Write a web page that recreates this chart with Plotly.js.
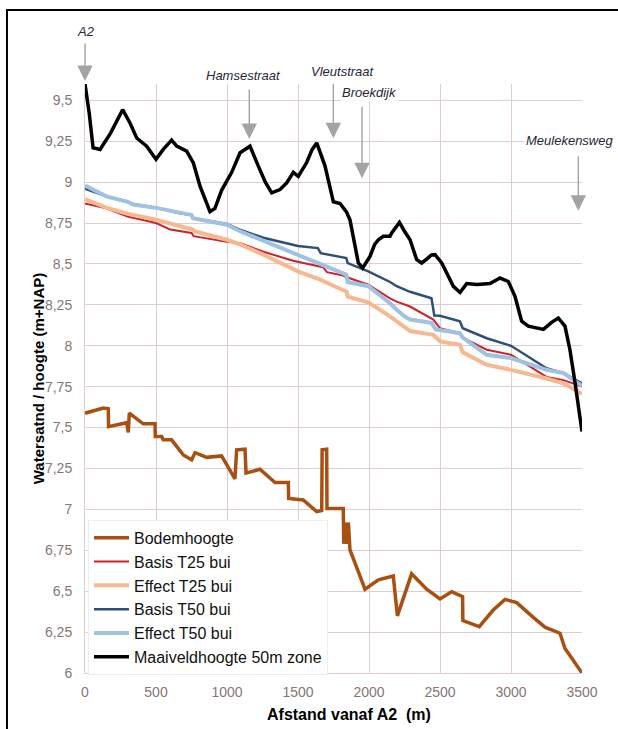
<!DOCTYPE html>
<html>
<head>
<meta charset="utf-8">
<script src="https://cdn.plot.ly/plotly-3.0.1.min.js"></script>
<style>
  html, body { margin: 0; padding: 0; background: #fff; }
  #chart { width: 618px; height: 729px; }
</style>
</head>
<body>
<div id="chart"></div>
<script>
// ---- Data ----
const bodemX = [0, 129, 164, 166, 293, 305, 312, 410, 493, 495, 540, 551, 610, 692, 751, 775, 857, 962, 1056, 1068, 1127, 1134, 1232, 1338, 1432, 1434, 1537, 1632, 1667, 1670, 1702, 1704, 1819, 1822, 1835, 1840, 1855, 1860, 1866, 1972, 2066, 2171, 2200, 2300, 2406, 2500, 2582, 2659, 2661, 2777, 2875, 2958, 3040, 3157, 3239, 3345, 3380, 3404, 3500];
const bodemY = [7.588, 7.619, 7.615, 7.506, 7.53, 7.47, 7.588, 7.523, 7.523, 7.445, 7.445, 7.425, 7.425, 7.333, 7.303, 7.347, 7.318, 7.327, 7.187, 7.364, 7.368, 7.222, 7.245, 7.164, 7.164, 7.067, 7.058, 6.986, 6.993, 7.364, 7.368, 7.006, 7.006, 6.79, 6.92, 6.79, 6.92, 6.78, 6.752, 6.512, 6.569, 6.593, 6.349, 6.606, 6.512, 6.453, 6.497, 6.467, 6.32, 6.283, 6.385, 6.45, 6.43, 6.34, 6.28, 6.243, 6.15, 6.12, 6.0];

const basisT25X = [0, 150, 300, 500, 600, 750, 765, 1000, 1100, 1256, 1465, 1676, 1704, 1817, 1840, 1995, 2148, 2195, 2289, 2453, 2500, 2640, 2660, 2829, 3000, 3250, 3370, 3500];
const basisT25Y = [8.87, 8.84, 8.79, 8.75, 8.71, 8.69, 8.67, 8.635, 8.625, 8.575, 8.52, 8.48, 8.45, 8.43, 8.42, 8.373, 8.29, 8.27, 8.24, 8.16, 8.107, 8.077, 8.05, 7.976, 7.945, 7.81, 7.79, 7.75];

const effectT25X = [0, 150, 300, 500, 760, 770, 1000, 1092, 1256, 1500, 1655, 1843, 1850, 1995, 2148, 2195, 2289, 2453, 2500, 2640, 2660, 2829, 3000, 3250, 3370, 3500];
const effectT25Y = [8.896, 8.844, 8.807, 8.77, 8.71, 8.70, 8.648, 8.62, 8.557, 8.455, 8.404, 8.33, 8.30, 8.266, 8.18, 8.15, 8.09, 8.067, 8.027, 8.006, 7.96, 7.884, 7.853, 7.80, 7.77, 7.707];

const basisT50X = [0, 150, 300, 340, 500, 670, 750, 760, 1000, 1090, 1256, 1500, 1640, 1660, 1840, 1850, 1995, 2148, 2195, 2289, 2440, 2460, 2500, 2640, 2660, 2829, 3000, 3250, 3370, 3500];
const basisT50Y = [8.96, 8.913, 8.88, 8.865, 8.843, 8.81, 8.80, 8.78, 8.745, 8.71, 8.66, 8.61, 8.597, 8.566, 8.536, 8.505, 8.455, 8.39, 8.364, 8.33, 8.29, 8.185, 8.183, 8.15, 8.107, 8.046, 8.0, 7.863, 7.833, 7.77];

const effectT50X = [0, 150, 300, 340, 500, 670, 750, 760, 1000, 1092, 1256, 1500, 1655, 1840, 1850, 1995, 2148, 2195, 2250, 2289, 2440, 2470, 2640, 2660, 2829, 3000, 3250, 3370, 3500];
const effectT50Y = [8.98, 8.913, 8.88, 8.863, 8.843, 8.81, 8.80, 8.78, 8.74, 8.70, 8.64, 8.557, 8.5, 8.434, 8.39, 8.364, 8.26, 8.22, 8.18, 8.16, 8.14, 8.10, 8.077, 8.05, 7.945, 7.925, 7.853, 7.833, 7.755];

const maaiveldX = [0, 30, 57, 106, 180, 265, 317, 364, 434, 500, 551, 610, 646, 680, 716, 763, 810, 880, 915, 962, 1033, 1092, 1162, 1220, 1270, 1315, 1373, 1420, 1467, 1502, 1561, 1600, 1632, 1690, 1749, 1796, 1840, 1866, 1890, 1925, 1955, 2007, 2040, 2066, 2101, 2148, 2160, 2214, 2250, 2289, 2336, 2371, 2406, 2440, 2465, 2512, 2550, 2594, 2641, 2688, 2760, 2852, 2923, 2981, 3028, 3075, 3122, 3169, 3228, 3286, 3333, 3380, 3415, 3450, 3500];
const maaiveldY = [9.6, 9.42, 9.21, 9.2, 9.3, 9.443, 9.362, 9.27, 9.22, 9.14, 9.2, 9.257, 9.22, 9.205, 9.19, 9.117, 8.975, 8.82, 8.84, 8.95, 9.06, 9.18, 9.22, 9.10, 9.0, 8.935, 8.955, 8.995, 9.06, 9.035, 9.12, 9.2, 9.24, 9.1, 8.88, 8.87, 8.82, 8.77, 8.65, 8.506, 8.475, 8.546, 8.62, 8.648, 8.669, 8.669, 8.69, 8.754, 8.7, 8.648, 8.526, 8.506, 8.53, 8.555, 8.557, 8.506, 8.44, 8.363, 8.326, 8.38, 8.375, 8.38, 8.414, 8.393, 8.302, 8.15, 8.12, 8.11, 8.10, 8.143, 8.17, 8.12, 7.976, 7.78, 7.476];

const seriesNames = ['Bodemhoogte', 'Basis T25 bui', 'Effect T25 bui', 'Basis T50 bui', 'Effect T50 bui', 'Maaiveldhoogte 50m zone'];

const xTickVals = [0, 500, 1000, 1500, 2000, 2500, 3000, 3500];
const xTickText = ['0', '500', '1000', '1500', '2000', '2500', '3000', '3500'];
const yTickVals = [6, 6.25, 6.5, 6.75, 7, 7.25, 7.5, 7.75, 8, 8.25, 8.5, 8.75, 9, 9.25, 9.5];
const yTickText = ['6', '6,25', '6,5', '6,75', '7', '7,25', '7,5', '7,75', '8', '8,25', '8,5', '8,75', '9', '9,25', '9,5'];

const placeNames = ['A2', 'Hamsestraat', 'Vleutstraat', 'Broekdijk', 'Meulekensweg'];
const placeArrowX = [0, 1157, 1749, 1951, 3474];
const placeTextX = [7, 1115, 1817, 2007, 3415];

const xTitle = 'Afstand vanaf A2 \u00a0(m)';
const yTitle = 'Watersatnd / hoogte (m+NAP)';

// ---- Styling ----
const FONT = 'Liberation Sans, Arial, sans-serif';
const GRID = '#dfcdd1';
const TICKC = '#857676';

const styles = [
  {color: '#a84f12', width: 3.5},
  {color: '#d0202a', width: 2},
  {color: '#f7b890', width: 4},
  {color: '#2e5078', width: 2.5},
  {color: '#9ec1e4', width: 4},
  {color: '#000000', width: 3.5}
];
const xs = [bodemX, basisT25X, effectT25X, basisT50X, effectT50X, maaiveldX];
const ys = [bodemY, basisT25Y, effectT25Y, basisT50Y, effectT50Y, maaiveldY];

const traces = seriesNames.map((n, i) => ({
  type: 'scatter', mode: 'lines', name: n,
  x: xs[i], y: ys[i],
  line: {color: styles[i].color, width: styles[i].width},
  hoverinfo: 'skip'
}));

const arrowTipY = [1.0051, 0.9066, 0.908, 0.840, 0.785];
const arrowLen = [-39, -51, -56, -73, -56];
const textY = [1.0883, 1.0141, 1.0209, 0.9852, 0.9037];

const annotations = [];
placeNames.forEach((p, i) => {
  annotations.push({
    x: placeArrowX[i], xref: 'x', y: arrowTipY[i], yref: 'paper',
    text: '', showarrow: true, ax: 0, ay: arrowLen[i],
    arrowcolor: '#a3a3a3', arrowwidth: 1.4, arrowhead: 2, arrowsize: 2.2
  });
  annotations.push({
    x: placeTextX[i], xref: 'x', y: textY[i], yref: 'paper',
    text: '<i>' + p + '</i>', showarrow: false, xanchor: 'center', yanchor: 'middle',
    font: {family: FONT, size: 13, color: '#262636'},
    bgcolor: 'rgba(255,255,255,0.9)', borderpad: 1
  });
});
annotations.push({
  x: 0.531, xref: 'paper', y: -0.0713, yref: 'paper',
  text: xTitle, showarrow: false, xanchor: 'center', yanchor: 'middle',
  font: {family: FONT, size: 16, color: '#000', weight: 'bold'}
});
annotations.push({
  x: -0.093, xref: 'paper', y: 0.5, yref: 'paper',
  text: yTitle, textangle: -90, showarrow: false, xanchor: 'center', yanchor: 'middle',
  font: {family: FONT, size: 15, color: '#000', weight: 'bold'}
});

const layout = {
  width: 618, height: 729,
  margin: {l: 85, r: 36, t: 84, b: 56},
  paper_bgcolor: '#fff', plot_bgcolor: '#fff',
  font: {family: FONT, size: 14, color: '#000'},
  showlegend: true,
  legend: {
    x: 0.006, xanchor: 'left', y: 0.26, yanchor: 'top',
    bgcolor: '#fff', bordercolor: '#ececec', borderwidth: 1,
    font: {family: FONT, size: 16, color: '#111'},
    itemwidth: 35, tracegroupgap: 0
  },
  xaxis: {
    range: [0, 3500], tickvals: xTickVals, ticktext: xTickText,
    showgrid: true, gridcolor: GRID, gridwidth: 1, zeroline: false,
    showline: true, linecolor: GRID, linewidth: 1,
    ticks: 'outside', ticklen: 6, tickcolor: 'rgba(0,0,0,0)',
    tickfont: {family: FONT, size: 14, color: TICKC}
  },
  yaxis: {
    range: [6, 9.6], tickvals: yTickVals, ticktext: yTickText,
    showgrid: true, gridcolor: GRID, gridwidth: 1, zeroline: false,
    showline: true, linecolor: GRID, linewidth: 1,
    ticks: 'outside', ticklen: 9, tickcolor: 'rgba(0,0,0,0)',
    tickfont: {family: FONT, size: 14, color: TICKC}
  },
  annotations: annotations,
  shapes: [{
    type: 'rect', xref: 'paper', yref: 'paper',
    x0: -0.157, x1: 1.09, y0: -0.11, y1: 1.1256,
    line: {color: '#000', width: 2}, fillcolor: 'rgba(0,0,0,0)', layer: 'above'
  }]
};

Plotly.newPlot('chart', traces, layout, {staticPlot: true, displayModeBar: false});
</script>
</body>
</html>
